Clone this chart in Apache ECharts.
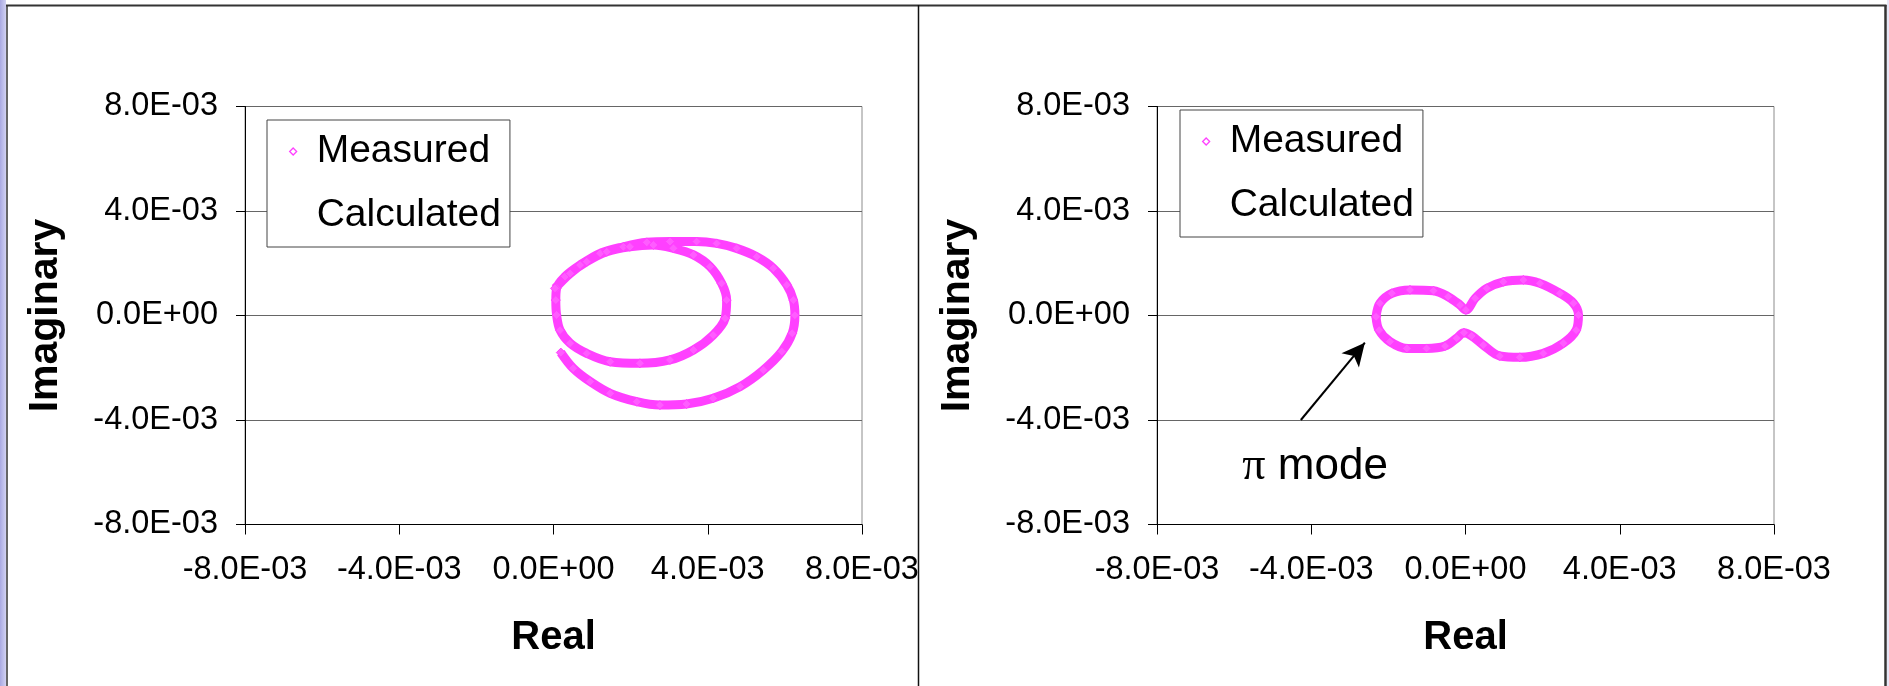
<!DOCTYPE html>
<html>
<head>
<meta charset="utf-8">
<script src="https://cdn.jsdelivr.net/npm/echarts@6/dist/echarts.min.js"></script>
<style>
html,body{margin:0;padding:0;background:#fff;}
#chart{width:1889px;height:686px;}
</style>
</head>
<body>
<div id="chart"></div>
<script>
// ---- Data ----
const tickValues = [-0.008, -0.004, 0, 0.004, 0.008];
const tickLabels = ['-8.0E-03', '-4.0E-03', '0.0E+00', '4.0E-03', '8.0E-03'];
const legendNames = ['Measured', 'Calculated'];
const xAxisTitle = 'Real';
const yAxisTitle = 'Imaginary';
const annotationText = ['π', 'mode'];

// Left panel: measured spiral (real, imaginary)
const leftMeasured = [
  [0.19e-3, -1.42e-3], [0.51e-3, -2.02e-3], [0.95e-3, -2.53e-3], [1.47e-3, -2.98e-3],
  [2.16e-3, -3.30e-3], [2.76e-3, -3.43e-3], [3.45e-3, -3.39e-3], [4.14e-3, -3.17e-3],
  [4.84e-3, -2.72e-3], [5.44e-3, -2.09e-3], [5.92e-3, -1.38e-3], [6.19e-3, -0.68e-3],
  [6.26e-3, 0.01e-3], [6.22e-3, 0.59e-3], [6.05e-3, 1.17e-3], [5.70e-3, 1.81e-3],
  [5.27e-3, 2.25e-3], [4.75e-3, 2.57e-3], [4.23e-3, 2.76e-3], [3.71e-3, 2.83e-3],
  [3.02e-3, 2.83e-3], [2.42e-3, 2.80e-3], [1.81e-3, 2.63e-3], [1.21e-3, 2.38e-3],
  [0.69e-3, 1.93e-3], [0.30e-3, 1.49e-3], [0.08e-3, 1.04e-3], [0.06e-3, 0.59e-3],
  [0.08e-3, 0.02e-3], [0.17e-3, -0.56e-3], [0.43e-3, -1.06e-3], [0.86e-3, -1.45e-3],
  [1.47e-3, -1.77e-3], [2.24e-3, -1.83e-3], [3.02e-3, -1.70e-3], [3.63e-3, -1.32e-3],
  [4.14e-3, -0.75e-3], [4.45e-3, -0.11e-3], [4.49e-3, 0.59e-3], [4.36e-3, 1.23e-3],
  [4.06e-3, 1.87e-3], [3.63e-3, 2.32e-3], [3.11e-3, 2.57e-3], [2.59e-3, 2.70e-3],
  [1.98e-3, 2.63e-3], [1.38e-3, 2.44e-3], [0.86e-3, 2.06e-3], [0.43e-3, 1.61e-3],
  [0.04e-3, 1.04e-3]
];

// Right panel: measured figure-eight (real, imaginary)
const rightMeasured = [
  [-2.32e-3, -0.05e-3], [-2.22e-3, 0.47e-3], [-1.91e-3, 0.85e-3], [-1.44e-3, 0.98e-3],
  [-0.83e-3, 0.95e-3], [-0.45e-3, 0.72e-3], [-0.14e-3, 0.40e-3], [0.01e-3, 0.21e-3],
  [0.25e-3, 0.66e-3], [0.55e-3, 1.04e-3], [0.98e-3, 1.29e-3], [1.50e-3, 1.36e-3],
  [1.93e-3, 1.23e-3], [2.45e-3, 0.85e-3], [2.80e-3, 0.47e-3], [2.93e-3, 0.02e-3],
  [2.87e-3, -0.56e-3], [2.54e-3, -1.06e-3], [2.02e-3, -1.45e-3], [1.41e-3, -1.60e-3],
  [0.89e-3, -1.55e-3], [0.46e-3, -1.13e-3], [0.16e-3, -0.78e-3], [-0.04e-3, -0.66e-3],
  [-0.23e-3, -0.87e-3], [-0.53e-3, -1.17e-3], [-1.01e-3, -1.26e-3], [-1.52e-3, -1.26e-3],
  [-1.96e-3, -1.00e-3], [-2.24e-3, -0.56e-3], [-2.32e-3, -0.05e-3]
];

// Annotation (right panel): label anchor and arrow from tail to tip
const annotationPoint = [-3.9e-3, -5.8e-3];
const arrowTail = [-4.27e-3, -4.0e-3];
const arrowTip = [-2.61e-3, -1.04e-3];

// ---- Styling ----
const MAGENTA = '#ff40ff';
const FONT = '"Liberation Sans", Arial, sans-serif';

function fmt(v) {
  const i = tickValues.findIndex(t => Math.abs(t - v) < 1e-9);
  return i >= 0 ? tickLabels[i] : '';
}

function makeGrid(left) {
  return {
    left: left, top: 106.5, width: 617, height: 418,
    show: true, borderColor: '#8c8c8c', borderWidth: 1,
    backgroundColor: 'transparent',
    outerBoundsMode: 'none', containLabel: false
  };
}

function makeX(gi) {
  return {
    type: 'value', gridIndex: gi,
    min: -0.008, max: 0.008, interval: 0.004,
    name: xAxisTitle, nameLocation: 'middle', nameGap: 93,
    nameTextStyle: { fontFamily: FONT, fontSize: 40, fontWeight: 'bold', color: '#000' },
    axisLine: { show: true, onZero: false, lineStyle: { color: '#000', width: 1 } },
    axisTick: { show: true, inside: false, length: 10, lineStyle: { color: '#000', width: 1 } },
    axisLabel: { formatter: fmt, fontFamily: FONT, fontSize: 32.5, color: '#000', margin: 29, showMinLabel: true, showMaxLabel: true },
    splitLine: { show: false }
  };
}

function makeY(gi) {
  return {
    type: 'value', gridIndex: gi,
    min: -0.008, max: 0.008, interval: 0.004,
    name: yAxisTitle, nameLocation: 'middle', nameGap: 179,
    nameTextStyle: { fontFamily: FONT, fontSize: 41, fontWeight: 'bold', color: '#000' },
    axisLine: { show: true, onZero: false, lineStyle: { color: '#000', width: 1 } },
    axisTick: { show: true, inside: false, length: 9, lineStyle: { color: '#000', width: 1 } },
    axisLabel: { formatter: fmt, fontFamily: FONT, fontSize: 32.5, color: '#000', margin: 27 },
    splitLine: { show: true, lineStyle: { color: '#666', width: 1.2 } }
  };
}

function makeLegend(left, top) {
  return {
    left: left, top: top, orient: 'vertical',
    selectedMode: false,
    backgroundColor: '#fff', borderColor: '#444', borderWidth: 1,
    padding: [12, 9, 12, 22],
    itemGap: 25, itemWidth: 7, itemHeight: 7,
    textStyle: { fontFamily: FONT, fontSize: 39, color: '#000', padding: [0, 0, 0, 15] },
    data: [
      { name: legendNames[0], icon: 'diamond', itemStyle: { color: '#fff', borderColor: MAGENTA, borderWidth: 1.3 } },
      { name: legendNames[1], icon: 'rect', itemStyle: { opacity: 0, color: 'transparent', borderWidth: 0 } }
    ],
    z: 10
  };
}

function measuredSeries(gi, data) {
  return {
    name: legendNames[0], type: 'line',
    xAxisIndex: gi, yAxisIndex: gi,
    data: data, smooth: 0.35,
    symbol: 'diamond', symbolSize: 9, showSymbol: true,
    lineStyle: { color: MAGENTA, width: 9 },
    itemStyle: { color: '#ff5cff', borderColor: MAGENTA, borderWidth: 1 },
    silent: true, animation: false, z: 3
  };
}

function calculatedSeries(gi) {
  return {
    name: legendNames[1], type: 'line',
    xAxisIndex: gi, yAxisIndex: gi,
    data: [], showSymbol: false,
    lineStyle: { width: 0, opacity: 0 },
    silent: true, animation: false
  };
}

const chart = echarts.init(document.getElementById('chart'), null, { renderer: 'canvas' });

const option = {
  animation: false,
  backgroundColor: '#fff',
  grid: [makeGrid(245), makeGrid(1157)],
  xAxis: [makeX(0), makeX(1)],
  yAxis: [makeY(0), makeY(1)],
  legend: [makeLegend(267, 120), makeLegend(1180, 110)],
  series: [
    measuredSeries(0, leftMeasured),
    calculatedSeries(0),
    measuredSeries(1, rightMeasured),
    calculatedSeries(1),
    {
      name: 'annotation', type: 'scatter',
      xAxisIndex: 1, yAxisIndex: 1,
      data: [annotationPoint],
      symbol: 'circle', symbolSize: 1,
      itemStyle: { color: 'rgba(0,0,0,0)' },
      label: {
        show: true, position: 'inside',
        formatter: '{p|' + annotationText[0] + '}{m| ' + annotationText[1] + '}',
        color: '#000', opacity: 1,
        rich: {
          p: { fontFamily: '"Liberation Serif", "Times New Roman", serif', fontSize: 46, color: '#000' },
          m: { fontFamily: FONT, fontSize: 44, color: '#000' }
        }
      },
      emphasis: { disabled: true },
      markLine: {
        silent: true, animation: false,
        symbol: ['none', 'arrow'], symbolSize: [17, 23],
        lineStyle: { color: '#000', width: 2, type: 'solid', opacity: 1 },
        itemStyle: { color: '#000' },
        label: { show: false },
        emphasis: { disabled: true },
        data: [[{ coord: arrowTail }, { coord: arrowTip }]]
      },
      silent: true, animation: false, z: 5
    }
  ],
  graphic: [
    { type: 'rect', shape: { x: 0, y: 0, width: 6, height: 686 }, style: { fill: new echarts.graphic.LinearGradient(0, 0, 1, 0, [{ offset: 0, color: '#a9a9e2' }, { offset: 1, color: '#d2d2f2' }]) }, z: 100, silent: true },
    { type: 'rect', shape: { x: 1887, y: 0, width: 2, height: 686 }, style: { fill: '#e6e6f6' }, z: 100, silent: true },
    { type: 'line', shape: { x1: 6, y1: 5.5, x2: 1886.5, y2: 5.5 }, style: { stroke: '#333', lineWidth: 2 }, z: 100, silent: true },
    { type: 'line', shape: { x1: 7, y1: 5, x2: 7, y2: 686 }, style: { stroke: '#333', lineWidth: 1.5 }, z: 100, silent: true },
    { type: 'line', shape: { x1: 1885.5, y1: 5, x2: 1885.5, y2: 686 }, style: { stroke: '#333', lineWidth: 2.5 }, z: 100, silent: true },
    { type: 'line', shape: { x1: 918.5, y1: 5, x2: 918.5, y2: 686 }, style: { stroke: '#111', lineWidth: 1.5 }, z: 100, silent: true }
  ]
};

chart.setOption(option);
</script>
</body>
</html>
